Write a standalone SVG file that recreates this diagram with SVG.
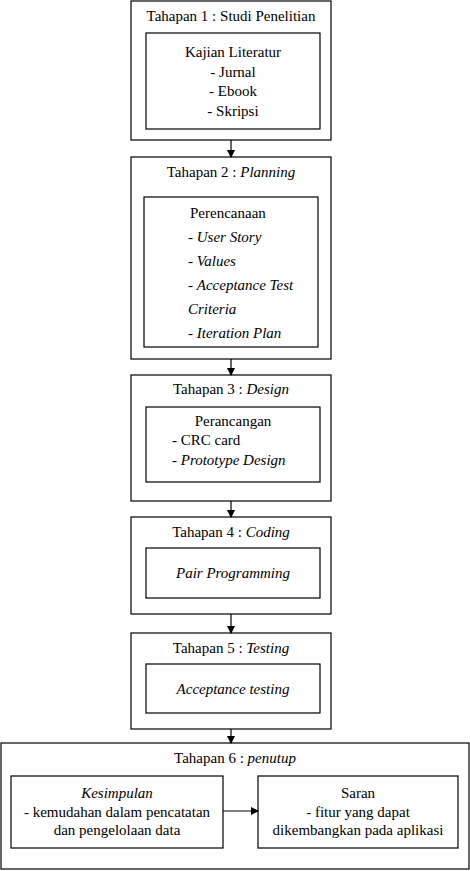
<svg xmlns="http://www.w3.org/2000/svg" width="470" height="871" viewBox="0 0 470 871" font-family="Liberation Serif, Times New Roman, serif">
<style>
rect{fill:#fff;stroke:#000;stroke-width:1.2}
text{font-size:15px;fill:#000}
.c{text-anchor:middle}
.i{font-style:italic}
.con line{stroke:#000;stroke-width:1.2}
</style>
<defs>
<marker id="ah" markerWidth="8" markerHeight="8" refX="7" refY="4" orient="auto" markerUnits="userSpaceOnUse">
<path d="M0,0 L8,4 L0,8 z" fill="#000"/>
</marker>
</defs>
<rect x="0" y="0" width="470" height="871" style="stroke:none"/>
<g id="tahap1">
<rect x="131" y="1" width="200" height="139"/>
<text class="c" x="231" y="21">Tahapan 1 : Studi Penelitian</text>
<rect x="146" y="33" width="174" height="96"/>
<text class="c" x="233" y="57">Kajian Literatur</text>
<text class="c" x="233" y="77">- Jurnal</text>
<text class="c" x="233" y="96">- Ebook</text>
<text class="c" x="233" y="116">- Skripsi</text>
</g>
<g id="tahap2">
<rect x="131" y="157" width="200" height="202"/>
<text class="c" x="231" y="177">Tahapan 2 : <tspan class="i">Planning</tspan></text>
<rect x="144" y="197" width="174" height="150"/>
<text x="190" y="218">Perencanaan</text>
<text x="188" y="242">- <tspan class="i">User Story</tspan></text>
<text x="188" y="266">- <tspan class="i">Values</tspan></text>
<text x="188" y="290">- <tspan class="i">Acceptance Test</tspan></text>
<text x="188" y="314" class="i">Criteria</text>
<text x="188" y="338">- <tspan class="i">Iteration Plan</tspan></text>
</g>
<g id="tahap3">
<rect x="131" y="375" width="200" height="126"/>
<text class="c" x="231" y="394">Tahapan 3 : <tspan class="i">Design</tspan></text>
<rect x="146" y="407" width="174" height="75"/>
<text class="c" x="233" y="426">Perancangan</text>
<text x="172" y="445">- CRC card</text>
<text x="172" y="465">- <tspan class="i">Prototype Design</tspan></text>
</g>
<g id="tahap4">
<rect x="131" y="517" width="200" height="97"/>
<text class="c" x="231" y="537">Tahapan 4 : <tspan class="i">Coding</tspan></text>
<rect x="146" y="548" width="174" height="50"/>
<text class="c i" x="233" y="578">Pair Programming</text>
</g>
<g id="tahap5">
<rect x="131" y="633" width="200" height="96"/>
<text class="c" x="231" y="653">Tahapan 5 : <tspan class="i">Testing</tspan></text>
<rect x="146" y="664" width="174" height="49"/>
<text class="c i" x="233" y="694">Acceptance testing</text>
</g>
<g id="tahap6">
<rect x="1" y="743" width="468" height="126"/>
<text class="c" x="235" y="763">Tahapan 6 : <tspan class="i">penutup</tspan></text>
</g>
<g id="kesimpulan">
<rect x="11" y="776" width="212" height="72"/>
<text class="c i" x="117" y="798">Kesimpulan</text>
<text class="c" x="117" y="817">- kemudahan dalam pencatatan</text>
<text class="c" x="117" y="835">dan pengelolaan data</text>
</g>
<g id="saran">
<rect x="258" y="776" width="200" height="72"/>
<text class="c" x="358" y="798">Saran</text>
<text class="c" x="358" y="817">- fitur yang dapat</text>
<text class="c" x="358" y="835">dikembangkan pada aplikasi</text>
</g>
<g class="con" id="connectors">
<line x1="231" y1="140" x2="231" y2="157" marker-end="url(#ah)"/>
<line x1="231" y1="359" x2="231" y2="375" marker-end="url(#ah)"/>
<line x1="231" y1="501" x2="231" y2="517" marker-end="url(#ah)"/>
<line x1="231" y1="614" x2="231" y2="633" marker-end="url(#ah)"/>
<line x1="231" y1="729" x2="231" y2="743" marker-end="url(#ah)"/>
<line x1="223" y1="811" x2="258" y2="811" marker-end="url(#ah)"/>
</g>
</svg>
